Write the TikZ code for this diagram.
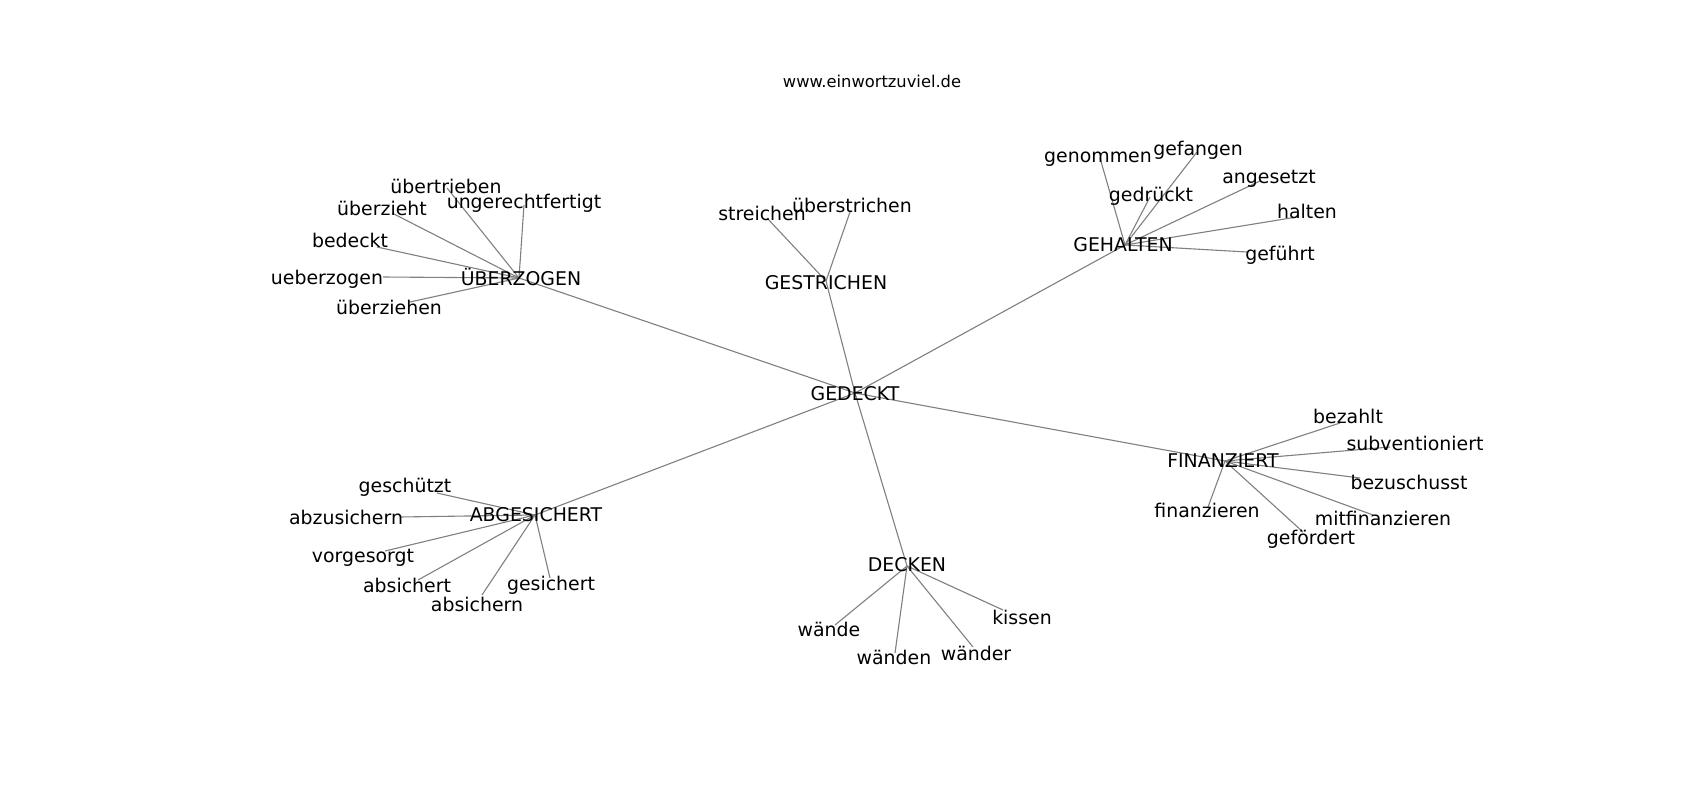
\documentclass[tikz,border=0pt]{standalone}
\usepackage{fontspec}
\setmainfont{DejaVu Sans}
\tikzset{
  lbl/.style={inner sep=0pt, text height=0.6em, text depth=0pt, yshift=-4.5pt, font=\fontsize{18.9}{20}\selectfont, text=black},
  ttl/.style={inner sep=0pt, text height=0.6em, text depth=0pt, yshift=-1.5pt, font=\fontsize{16.3}{18}\selectfont, text=black},
  edge/.style={draw=gray, line width=1.1pt}
}
\begin{document}
\begin{tikzpicture}[x=1pt,y=-1pt]
\useasboundingbox (0,0) rectangle (1700,800);
\fill[white] (0,0) rectangle (1700,800);
% hubs
\coordinate (G) at (855,393);
\coordinate (U) at (519,278);
\coordinate (S) at (826,281);
\coordinate (H) at (1125,245);
\coordinate (F) at (1225,461);
\coordinate (A) at (535,515);
\coordinate (D) at (907,566);
% endpoints
\coordinate (e1) at (447,188);
\coordinate (e2) at (392,213);
\coordinate (e3) at (524,205);
\coordinate (e4) at (377,247);
\coordinate (e5) at (383,277);
\coordinate (e6) at (410,302);
\coordinate (e7) at (767,218);
\coordinate (e8) at (850,212);
\coordinate (e9) at (1100,158);
\coordinate (e10) at (1197,152);
\coordinate (e11) at (1150,197);
\coordinate (e12) at (1260,181);
\coordinate (e13) at (1297,217);
\coordinate (e14) at (1247,252);
\coordinate (e15) at (1340,423);
\coordinate (e16) at (1390,447);
\coordinate (e17) at (1360,478);
\coordinate (e18) at (1373,515);
\coordinate (e19) at (1303,532);
\coordinate (e20) at (1208,507);
\coordinate (e21) at (437,493);
\coordinate (e22) at (400,517);
\coordinate (e23) at (385,551);
\coordinate (e24) at (418,580);
\coordinate (e25) at (482,595);
\coordinate (e26) at (550,578);
\coordinate (e27) at (835,625);
\coordinate (e28) at (895,653);
\coordinate (e29) at (973,647);
\coordinate (e30) at (1003,610);
% edges
\foreach \h in {U,S,H,F,A,D} \draw[edge] (G) -- (\h);
\foreach \i in {1,...,6} \draw[edge] (U) -- (e\i);
\foreach \i in {7,8} \draw[edge] (S) -- (e\i);
\foreach \i in {9,...,14} \draw[edge] (H) -- (e\i);
\foreach \i in {15,...,20} \draw[edge] (F) -- (e\i);
\foreach \i in {21,...,26} \draw[edge] (A) -- (e\i);
\foreach \i in {27,...,30} \draw[edge] (D) -- (e\i);
% title
\node[ttl] (title) at (872,83) {www.einwortzuviel.de};
% hub labels
\node[lbl] (nG) at (855,393) {GEDECKT};
\node[lbl] (nU) at (521,278) {ÜBERZOGEN};
\node[lbl] (nS) at (826,282) {GESTRICHEN};
\node[lbl] (nH) at (1123,244) {GEHALTEN};
\node[lbl] (nF) at (1223,460) {FINANZIERT};
\node[lbl] (nA) at (536,514) {ABGESICHERT};
\node[lbl] (nD) at (907,564) {DECKEN};
% leaf labels
\node[lbl] (l1) at (446,186) {übertrieben};
\node[lbl] (l2) at (382,208) {überzieht};
\node[lbl] (l3) at (524,201) {ungerechtfertigt};
\node[lbl] (l4) at (350,240) {bedeckt};
\node[lbl] (l5) at (327,277) {ueberzogen};
\node[lbl] (l6) at (389,307) {überziehen};
\node[lbl] (l7) at (762,213) {streichen};
\node[lbl] (l8) at (852,205) {überstrichen};
\node[lbl] (l9) at (1098,155) {genommen};
\node[lbl] (l10) at (1198,148) {gefangen};
\node[lbl] (l11) at (1151,194) {gedrückt};
\node[lbl] (l12) at (1269,176) {angesetzt};
\node[lbl] (l13) at (1307,211) {halten};
\node[lbl] (l14) at (1280,253) {geführt};
\node[lbl] (l15) at (1348,416) {bezahlt};
\node[lbl] (l16) at (1415,443) {subventioniert};
\node[lbl] (l17) at (1409,482) {bezuschusst};
\node[lbl] (l18) at (1383,518) {mitfinanzieren};
\node[lbl] (l19) at (1311,537) {gefördert};
\node[lbl] (l20) at (1207,510) {finanzieren};
\node[lbl] (l21) at (405,485) {geschützt};
\node[lbl] (l22) at (346,517) {abzusichern};
\node[lbl] (l23) at (363,555) {vorgesorgt};
\node[lbl] (l24) at (407,585) {absichert};
\node[lbl] (l25) at (477,604) {absichern};
\node[lbl] (l26) at (551,583) {gesichert};
\node[lbl] (l27) at (829,629) {wände};
\node[lbl] (l28) at (894,657) {wänden};
\node[lbl] (l29) at (976,653) {wänder};
\node[lbl] (l30) at (1022,617) {kissen};
\end{tikzpicture}
\end{document}
